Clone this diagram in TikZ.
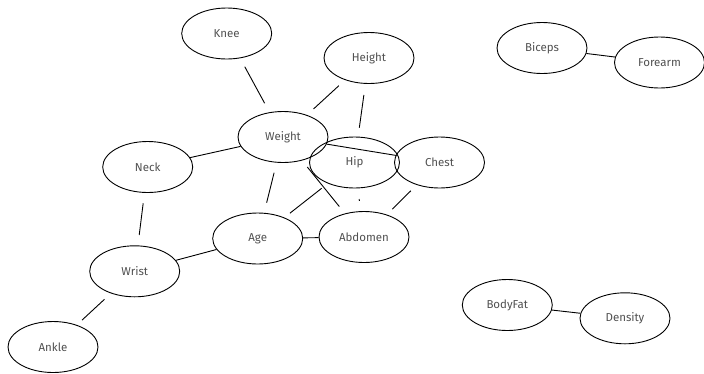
\documentclass[tikz,border=0pt]{standalone}
\usepackage{fontspec}
\setmainfont{Fira Sans}
\usetikzlibrary{shapes.geometric,calc}
\definecolor{labelgray}{HTML}{505050}
\tikzset{
  var/.style={ellipse, draw, line width=0.9pt, minimum width=90pt, minimum height=51pt,
    inner sep=0pt, font=\fontsize{11.5}{12}\selectfont, text=labelgray},
  link/.style={line width=0.9pt}
}
\begin{document}
\begin{tikzpicture}[x=1pt,y=-1pt]
\useasboundingbox (0,0) rectangle (704,373);
% variables
\node[var] (knee)    at (226.7,33.5)  {Knee};
\node[var] (height)  at (369,58)      {Height};
\node[var] (weight)  at (283,137)     {Weight};
\node[var] (hip)     at (354.5,162.5) {Hip};
\node[var] (chest)   at (439.5,162.5) {Chest};
\node[var] (neck)    at (147.7,167)   {Neck};
\node[var] (age)     at (257.7,238.5) {Age};
\node[var] (abdomen) at (364,237)     {Abdomen};
\node[var] (wrist)   at (134.7,271.3) {Wrist};
\node[var] (ankle)   at (53,347)      {Ankle};
\node[var] (biceps)  at (542,48)      {Biceps};
\node[var] (forearm) at (659.5,62.5)  {Forearm};
\node[var] (bodyfat) at (507.3,305)   {BodyFat};
\node[var] (density) at (625,318.3)   {Density};
% edges running border to border
\draw[link] (weight) -- (chest);
\draw[link] (neck) -- (weight);
\draw[link] (age) -- (abdomen);
\draw[link] (wrist) -- (age);
\draw[link] (biceps) -- (forearm);
\draw[link] (bodyfat) -- (density);
% edges shown only along their middle part
\draw[link] ($(knee)!0.321!(weight)$) -- ($(knee)!0.674!(weight)$);
\draw[link] ($(height)!0.35!(weight)$) -- ($(height)!0.645!(weight)$);
\draw[link] ($(height)!0.354!(hip)$) -- ($(height)!0.667!(hip)$);
\draw[link] ($(weight)!0.30!(abdomen)$) -- ($(weight)!0.695!(abdomen)$);
\draw[link] ($(weight)!0.352!(age)$) -- ($(weight)!0.647!(age)$);
\draw[link] ($(hip)!0.339!(age)$) -- ($(hip)!0.667!(age)$);
\draw[link] ($(hip)!0.49!(abdomen)$) -- ($(hip)!0.515!(abdomen)$);
\draw[link] ($(chest)!0.38!(abdomen)$) -- ($(chest)!0.625!(abdomen)$);
\draw[link] ($(neck)!0.348!(wrist)$) -- ($(neck)!0.652!(wrist)$);
\draw[link] ($(wrist)!0.37!(ankle)$) -- ($(wrist)!0.645!(ankle)$);
\end{tikzpicture}
\end{document}
